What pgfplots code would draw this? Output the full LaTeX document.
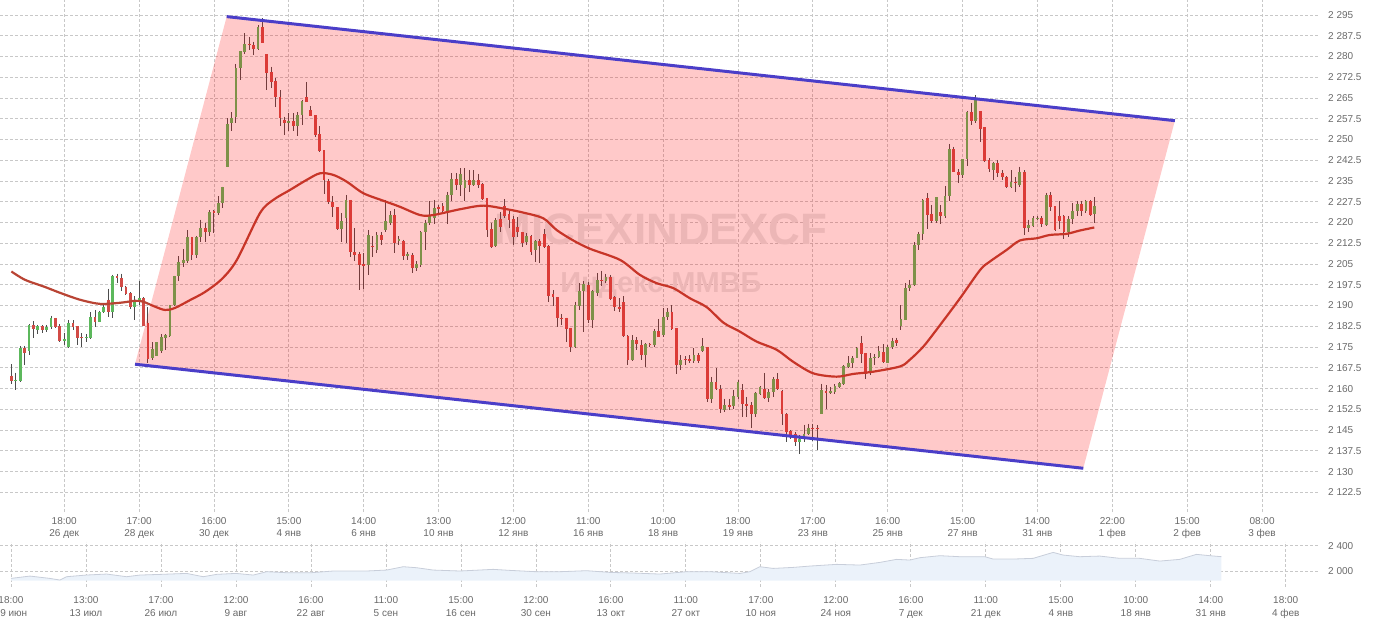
\documentclass[border=0pt]{standalone}
\usepackage{fontspec}
\setmainfont{Liberation Sans}
\usepackage{pgfplots}
\usepackage{pgfplotstable}
\pgfplotsset{compat=1.18}

\definecolor{upc}{RGB}{92,184,92}
\definecolor{downc}{RGB}{210,75,70}
\definecolor{wickc}{RGB}{77,77,77}
\definecolor{mac}{RGB}{185,68,52}
\definecolor{chan}{RGB}{75,62,200}
\definecolor{gridc}{RGB}{200,200,200}
\definecolor{labc}{RGB}{105,105,105}
\definecolor{navfill}{RGB}{235,242,250}
\definecolor{navline}{RGB}{200,206,218}

% hourly candles: index, open, high, low, close
\pgfplotstableread{
i o h l c
0 2164.7 2168.7 2161.8 2162.8
1 2162.7 2165.8 2159.6 2163.1
2 2162.8 2175.4 2162.5 2174.5
3 2174.6 2175.4 2168.5 2172.9
4 2173.7 2183.3 2172.1 2182.9
5 2182.9 2184.4 2178.1 2181.4
6 2181.2 2183.0 2179.6 2182.5
7 2182.5 2183.0 2179.9 2181.2
8 2181.2 2183.0 2180.6 2182.1
9 2182.1 2186.4 2181.6 2185.5
10 2185.5 2185.5 2181.8 2182.4
11 2182.6 2183.3 2176.8 2177.3
12 2177.3 2180.2 2175.7 2177.8
13 2175.1 2184.6 2174.6 2183.6
14 2183.6 2184.6 2181.2 2182.4
15 2182.6 2182.6 2175.7 2178.3
16 2178.5 2180.0 2175.0 2178.1
17 2178.1 2179.7 2176.8 2178.5
18 2178.3 2187.5 2177.9 2185.9
19 2185.9 2188.4 2182.4 2184.2
20 2184.1 2188.2 2183.9 2187.7
21 2187.7 2190.2 2187.2 2189.6
22 2192.1 2196.1 2186.0 2187.5
23 2187.5 2201.2 2185.6 2200.5
24 2200.5 2201.5 2198.1 2199.8
25 2200.0 2201.5 2195.4 2196.8
26 2196.8 2197.2 2193.9 2194.1
27 2194.4 2194.8 2188.7 2189.6
28 2189.6 2193.3 2184.8 2192.1
29 2191.8 2199.0 2190.1 2192.7
30 2192.7 2193.1 2182.6 2182.6
31 2183.8 2189.4 2169.3 2170.8
32 2171.2 2176.7 2170.5 2174.3
33 2171.7 2176.7 2171.7 2176.7
34 2173.7 2179.7 2172.9 2178.5
35 2178.3 2179.7 2173.9 2179.2
36 2179.0 2190.3 2178.5 2190.1
37 2190.1 2200.8 2189.8 2200.5
38 2200.5 2207.8 2198.7 2205.8
39 2205.5 2210.5 2204.0 2206.5
40 2206.2 2217.3 2205.5 2214.7
41 2214.7 2214.9 2206.6 2208.1
42 2208.1 2215.2 2207.0 2214.7
43 2214.7 2221.0 2213.1 2217.9
44 2217.9 2219.7 2213.1 2216.7
45 2216.7 2224.5 2215.0 2223.7
46 2224.1 2224.6 2216.1 2223.4
47 2223.4 2229.4 2222.8 2227.0
48 2227.0 2233.0 2225.2 2232.8
49 2240.2 2257.7 2239.9 2255.5
50 2255.8 2259.8 2252.9 2257.7
51 2258.3 2277.3 2256.1 2275.7
52 2275.7 2282.0 2271.5 2282.0
53 2281.5 2288.4 2281.0 2284.5
54 2284.6 2287.0 2282.4 2284.0
55 2284.2 2285.4 2280.6 2282.8
56 2282.8 2291.4 2282.4 2290.5
57 2290.5 2293.8 2284.8 2285.0
58 2280.8 2280.8 2267.7 2274.2
59 2274.4 2276.3 2268.5 2270.9
60 2271.3 2272.1 2261.7 2265.3
61 2265.3 2267.7 2254.7 2257.7
62 2257.2 2258.3 2251.7 2255.9
63 2255.9 2259.7 2252.9 2256.6
64 2256.6 2259.5 2252.9 2254.7
65 2254.7 2260.0 2251.4 2258.8
66 2258.8 2264.3 2255.4 2263.8
67 2265.3 2270.8 2263.5 2263.7
68 2260.7 2262.1 2258.4 2258.6
69 2258.8 2258.8 2251.0 2251.8
70 2251.9 2254.7 2245.3 2246.0
71 2246.2 2246.2 2230.2 2235.3
72 2235.0 2235.6 2226.7 2227.3
73 2227.5 2229.4 2221.9 2225.5
74 2225.6 2225.6 2217.3 2217.7
75 2217.6 2223.4 2213.1 2220.6
76 2221.6 2230.0 2212.5 2228.2
77 2228.2 2228.2 2207.7 2209.3
78 2209.3 2218.0 2206.0 2208.3
79 2208.8 2209.5 2195.7 2204.5
80 2205.0 2209.0 2195.9 2204.2
81 2204.5 2217.3 2201.1 2215.5
82 2211.4 2215.0 2207.7 2211.0
83 2210.1 2216.5 2209.0 2215.5
84 2215.5 2216.5 2212.0 2213.7
85 2217.3 2228.2 2216.5 2220.6
86 2220.0 2224.0 2219.0 2222.8
87 2222.8 2224.8 2208.9 2212.5
88 2213.5 2215.0 2212.0 2214.1
89 2213.4 2213.8 2206.5 2208.0
90 2208.0 2209.5 2206.5 2208.5
91 2208.3 2209.0 2201.7 2203.5
92 2203.5 2206.0 2202.5 2205.1
93 2204.7 2217.0 2204.0 2216.5
94 2216.5 2221.0 2210.0 2220.0
95 2220.0 2227.6 2219.0 2222.8
96 2221.6 2228.2 2219.4 2225.2
97 2225.5 2226.5 2223.5 2224.8
98 2225.8 2227.0 2223.4 2224.0
99 2224.3 2231.2 2219.5 2230.0
100 2230.0 2237.8 2227.6 2235.6
101 2235.6 2237.8 2231.8 2233.6
102 2233.5 2239.6 2229.4 2237.6
103 2232.4 2239.6 2227.6 2235.2
104 2235.2 2239.0 2231.2 2233.5
105 2233.5 2238.8 2233.2 2235.2
106 2235.2 2237.6 2232.4 2233.5
107 2233.8 2234.2 2228.2 2228.5
108 2228.8 2228.8 2214.9 2217.3
109 2217.6 2220.0 2210.7 2211.3
110 2211.6 2221.6 2211.3 2221.0
111 2221.2 2223.8 2216.7 2218.5
112 2226.1 2228.4 2221.6 2222.4
113 2223.0 2224.6 2218.0 2221.0
114 2221.2 2222.2 2211.9 2214.9
115 2218.3 2221.9 2214.9 2216.4
116 2216.5 2216.5 2211.3 2212.5
117 2212.8 2216.1 2211.9 2215.2
118 2215.2 2215.5 2208.3 2209.5
119 2209.9 2213.7 2205.9 2213.2
120 2213.5 2214.0 2205.3 2211.6
121 2215.9 2217.6 2210.7 2211.3
122 2211.6 2211.9 2191.1 2193.6
123 2194.1 2195.7 2189.9 2193.0
124 2193.1 2193.1 2182.4 2185.6
125 2185.6 2187.0 2183.0 2185.2
126 2185.6 2185.6 2176.9 2181.5
127 2182.0 2182.0 2173.3 2174.9
128 2175.1 2191.4 2174.5 2190.2
129 2189.9 2198.1 2188.4 2195.3
130 2195.4 2198.7 2180.6 2197.9
131 2197.5 2198.5 2183.6 2184.8
132 2184.8 2195.7 2181.8 2195.1
133 2194.5 2201.7 2193.3 2199.3
134 2199.3 2202.6 2196.9 2198.7
135 2198.7 2201.5 2198.1 2200.3
136 2200.3 2201.1 2192.1 2192.4
137 2193.0 2193.3 2188.1 2189.4
138 2189.4 2192.7 2187.8 2188.7
139 2191.1 2193.3 2178.7 2179.0
140 2179.0 2179.3 2168.5 2170.3
141 2170.3 2179.3 2170.0 2177.5
142 2177.5 2178.5 2173.9 2176.0
143 2175.7 2177.5 2170.3 2172.3
144 2172.3 2176.3 2167.9 2176.1
145 2176.1 2176.6 2175.1 2175.7
146 2175.7 2181.5 2175.1 2180.8
147 2180.8 2185.2 2178.5 2178.7
148 2179.3 2189.0 2178.7 2186.0
149 2185.8 2189.0 2184.8 2187.8
150 2187.8 2190.2 2181.2 2181.5
151 2181.8 2181.8 2165.4 2168.5
152 2168.6 2172.1 2166.6 2170.3
153 2170.6 2171.7 2168.5 2170.2
154 2170.6 2172.1 2169.1 2170.0
155 2170.0 2174.5 2169.1 2172.1
156 2172.1 2172.9 2169.1 2170.0
157 2173.5 2178.1 2173.3 2175.4
158 2175.1 2175.1 2155.1 2156.1
159 2156.1 2164.2 2154.8 2162.3
160 2162.3 2167.3 2159.4 2159.7
161 2160.0 2161.2 2151.2 2152.5
162 2152.4 2156.4 2151.5 2153.9
163 2153.9 2156.4 2152.1 2153.3
164 2153.7 2159.6 2152.7 2157.2
165 2157.0 2163.0 2156.4 2162.2
166 2159.6 2161.5 2149.7 2154.3
167 2154.5 2157.0 2149.7 2153.6
168 2153.9 2155.1 2145.7 2150.7
169 2150.9 2158.8 2149.7 2158.5
170 2158.2 2160.8 2157.6 2160.4
171 2160.0 2165.7 2156.4 2156.6
172 2156.6 2160.0 2155.1 2158.8
173 2158.8 2164.2 2157.0 2163.4
174 2163.4 2165.5 2159.4 2159.7
175 2159.0 2159.4 2147.0 2150.7
176 2150.9 2151.2 2140.6 2144.3
177 2144.5 2144.9 2141.8 2143.4
178 2143.7 2144.3 2139.4 2140.6
179 2140.6 2143.1 2136.4 2141.8
180 2141.8 2147.0 2140.6 2143.7
181 2143.7 2147.3 2143.1 2145.8
182 2145.8 2147.3 2141.2 2145.4
183 2145.9 2146.7 2137.8 2145.5
184 2150.7 2161.8 2150.7 2159.4
185 2159.0 2161.2 2152.7 2158.4
186 2158.4 2160.6 2158.2 2159.0
187 2158.8 2161.5 2158.2 2160.8
188 2160.6 2162.4 2160.3 2162.0
189 2161.7 2168.5 2161.2 2168.1
190 2167.9 2171.7 2167.3 2169.4
191 2169.4 2171.7 2167.5 2171.2
192 2171.2 2175.1 2170.9 2174.5
193 2176.3 2179.0 2169.3 2172.4
194 2172.7 2172.9 2163.6 2165.4
195 2166.0 2172.7 2164.8 2170.9
196 2170.9 2172.4 2168.4 2171.3
197 2171.3 2175.4 2170.9 2173.4
198 2173.1 2176.0 2169.4 2169.6
199 2169.4 2175.9 2169.3 2175.1
200 2175.1 2178.4 2174.4 2177.2
201 2177.5 2178.4 2175.4 2176.3
202 2182.6 2190.2 2181.2 2185.2
203 2184.8 2198.1 2184.8 2196.3
204 2196.3 2199.3 2195.1 2197.5
205 2197.5 2212.8 2197.0 2212.0
206 2211.9 2216.7 2210.1 2215.9
207 2215.9 2228.5 2213.7 2228.3
208 2228.8 2230.6 2217.6 2222.8
209 2223.0 2226.4 2220.0 2220.4
210 2220.4 2229.1 2220.0 2229.1
211 2223.7 2226.4 2219.5 2222.2
212 2222.2 2233.2 2221.6 2229.4
213 2229.4 2248.4 2227.9 2246.5
214 2246.5 2247.4 2238.1 2238.2
215 2238.4 2239.3 2234.4 2237.0
216 2237.0 2242.9 2236.0 2242.9
217 2242.9 2260.3 2240.5 2260.0
218 2260.0 2263.1 2255.3 2256.8
219 2256.8 2266.1 2256.1 2264.5
220 2260.3 2260.3 2249.2 2253.8
221 2254.5 2254.5 2241.7 2242.3
222 2242.6 2243.2 2238.1 2239.3
223 2239.0 2242.0 2235.4 2241.4
224 2241.4 2242.6 2236.4 2237.8
225 2238.0 2238.8 2235.4 2236.4
226 2236.4 2236.8 2232.4 2233.0
227 2233.0 2238.8 2232.4 2234.8
228 2234.8 2236.4 2231.2 2234.2
229 2233.6 2240.2 2233.0 2238.4
230 2238.4 2238.8 2215.5 2217.9
231 2217.9 2221.0 2216.7 2219.1
232 2218.8 2222.2 2218.5 2221.6
233 2221.4 2222.2 2221.0 2221.8
234 2221.8 2222.2 2218.5 2219.4
235 2219.1 2230.8 2218.8 2230.0
236 2230.0 2231.1 2224.3 2225.5
237 2225.8 2225.8 2217.0 2217.3
238 2222.4 2227.6 2217.8 2220.4
239 2222.4 2222.8 2214.0 2216.7
240 2216.7 2222.2 2214.7 2221.3
241 2221.2 2227.0 2219.5 2224.2
242 2224.1 2227.8 2222.2 2226.7
243 2226.7 2227.8 2222.2 2224.0
244 2224.0 2228.2 2223.4 2227.6
245 2227.7 2228.2 2222.2 2222.8
246 2223.0 2229.1 2220.0 2226.0
}\candles

\begin{document}
\begin{tikzpicture}
\useasboundingbox (0pt,0pt) rectangle (1380pt,622pt);
\pgfplotsset{
  chartbase/.style={
    scale only axis, width=1318pt,
    axis line style={draw=none},
    major tick length=0pt,
    grid=major,
    major grid style={gridc, line width=0.8pt, dash pattern=on 3pt off 2pt},
    tick label style={text=labc, font=\fontsize{10}{12.5}\selectfont},
    xticklabel style={align=center, anchor=north, inner sep=0pt, yshift=-5pt},
    yticklabel pos=right,
    yticklabel style={anchor=west, inner sep=0pt, xshift=10pt},
  },
  candle/.style 2 args={draw=none, no marks, forget plot,
    error bars/y dir=minus, error bars/y explicit, error bars/error mark=none,
    error bars/error bar style={line width=#1, draw=#2}},
}
% main price panel
\begin{axis}[chartbase,
  at={(0pt,110pt)}, anchor=south west, height=512pt,
  xmin=-2.59, xmax=296.7, ymin=2115.4, ymax=2300.4,
  xtick={12,29,46,63,80,97,114,131,148,165,182,199,216,233,250,267,284},
  xticklabels={{18:00\\26 дек},{17:00\\28 дек},{16:00\\30 дек},{15:00\\4 янв},
    {14:00\\6 янв},{13:00\\10 янв},{12:00\\12 янв},{11:00\\16 янв},{10:00\\18 янв},
    {18:00\\19 янв},{17:00\\23 янв},{16:00\\25 янв},{15:00\\27 янв},{14:00\\31 янв},
    {22:00\\1 фев},{15:00\\2 фев},{08:00\\3 фев}},
  ytick={2122.5,2130,2137.5,2145,2152.5,2160,2167.5,2175,2182.5,2190,2197.5,2205,
    2212.5,2220,2227.5,2235,2242.5,2250,2257.5,2265,2272.5,2280,2287.5,2295},
  yticklabels={2 122.5,2 130,2 137.5,2 145,2 152.5,2 160,2 167.5,2 175,2 182.5,2 190,
    2 197.5,2 205,2 212.5,2 220,2 227.5,2 235,2 242.5,2 250,2 257.5,2 265,2 272.5,
    2 280,2 287.5,2 295},
]
% watermark
\node[font=\bfseries\fontsize{44}{44}\selectfont, text=black!9] at (axis cs:147.5,2217.7) {MICEXINDEXCF};
\node[font=\bfseries\fontsize{29}{29}\selectfont, text=black!9] at (axis cs:147.5,2197.1) {Индекс ММВБ};

% wicks
\addplot[candle={1pt}{wickc}]
  table[x=i, y=h, y error minus expr=\thisrow{h}-\thisrow{l}] {\candles};
% rising bodies
\addplot[restrict expr to domain={\thisrow{c}-\thisrow{o}}{0.01:500}, candle={2.8pt}{upc}]
  table[x=i, y=c, y error minus expr=\thisrow{c}-\thisrow{o}] {\candles};
% falling bodies
\addplot[restrict expr to domain={\thisrow{o}-\thisrow{c}}{0.01:500}, candle={2.8pt}{downc}]
  table[x=i, y=o, y error minus expr=\thisrow{o}-\thisrow{c}] {\candles};

% moving average
\addplot[mac, line width=2.2pt, smooth, mark=none] coordinates {
(0,2202.3) (3.09,2199.3) (7.63,2196.7) (11.04,2194.6) (15.58,2192.1) (20.1,2190.6)
(24.66,2191.0) (28.07,2191.7) (29.9,2191.4) (32.6,2189.6) (34.9,2188.4) (37.1,2189.1)
(40.6,2192.0) (43.96,2194.9) (47.8,2199.6) (51.2,2206.5) (56.45,2223.4) (59.5,2228.2)
(63.3,2231.8) (67.05,2235.4) (70.1,2237.8) (73.1,2237.2) (76.1,2234.8) (79.9,2230.6)
(84.4,2227.9) (88.2,2225.7) (92.8,2222.7) (95.8,2222.7) (101.9,2224.8) (107.2,2226.1)
(112.5,2224.8) (116.2,2223.6) (120.8,2221.5) (123.8,2217.3) (127.6,2213.5) (131.4,2210.5)
(138.2,2206.5) (142.7,2201.1) (146.5,2198.1) (150.3,2196.3) (154.1,2192.6) (157.9,2189.4)
(161.7,2183.8) (165.4,2180.6) (169.2,2177.0) (173.8,2174.0) (177.5,2169.7) (182.1,2165.5)
(187.4,2164.3) (191.2,2165.3) (195.7,2166.1) (201.8,2168.0) (204.0,2170.4) (207.1,2175.2)
(210.9,2183.0) (215.4,2192.6) (220.0,2202.9) (222.2,2205.9) (226.0,2210.1) (229.0,2213.5)
(232.8,2214.3) (235.8,2215.5) (239.6,2215.9) (242.6,2217.1) (245.9,2218.2)
};

% channel area (translucent overlay)
\addplot[draw=none, fill=red, fill opacity=0.21, forget plot] coordinates {
(28.07,2168.8) (48.89,2294.4) (264.2,2256.8) (243.4,2131.2)
} -- cycle;
% channel borders
\addplot[chan, line width=3pt, mark=none] coordinates {(48.89,2294.4) (264.2,2256.8)};
\addplot[chan, line width=3pt, mark=none] coordinates {(28.07,2168.8) (243.4,2131.2)};
\end{axis}

% navigator panel
\begin{axis}[chartbase,
  at={(0pt,35.3pt)}, anchor=south west, height=45pt,
  xmin=-0.1467, xmax=17.43, ymin=1752, ymax=2463,
  xticklabel style={yshift=-5pt},
  xtick={0,...,17},
  xticklabels={{18:00\\29 июн},{13:00\\13 июл},{17:00\\26 июл},{12:00\\9 авг},
    {16:00\\22 авг},{11:00\\5 сен},{15:00\\16 сен},{12:00\\30 сен},{16:00\\13 окт},
    {11:00\\27 окт},{17:00\\10 ноя},{12:00\\24 ноя},{16:00\\7 дек},{11:00\\21 дек},
    {15:00\\4 янв},{10:00\\18 янв},{14:00\\31 янв},{18:00\\4 фев}},
  ytick={2000,2400}, yticklabels={2 000,2 400},
]
\addplot[draw=none, fill=navfill, forget plot] coordinates {
(0,1846.5) (0,1883.4) (0.253,1920) (0.52,1883) (0.653,1857) (0.742,1910) (1.0,1936)
(1.276,1952) (1.542,1910) (1.72,1936) (2.0,1947) (2.342,1962) (2.564,1910) (2.742,1947)
(3.0,1962) (3.231,1936) (3.409,1989) (3.676,1973) (4.0,1973) (4.298,2000) (4.742,2000)
(5.009,2015) (5.231,2068) (5.409,2052) (5.631,2015) (5.987,2000) (6.431,2026) (6.653,2010)
(7.0,1989) (7.32,1989) (7.676,2005) (7.987,1978) (8.298,1968) (8.653,1952) (9.009,1989)
(9.32,1989) (9.72,1962) (9.853,1989) (9.987,2068) (10.164,2041) (10.431,2057) (10.653,2078)
(11.009,2105) (11.32,2094) (11.587,2136) (11.809,2184) (11.987,2173) (12.12,2210)
(12.387,2242) (12.653,2226) (12.987,2226) (13.097,2189) (13.364,2189) (13.631,2200)
(13.898,2294) (14.031,2252) (14.253,2226) (14.52,2236) (14.787,2200) (15.053,2200)
(15.32,2157) (15.587,2184) (15.809,2263) (15.987,2242) (16.143,2226) (16.143,1846.5)
} -- cycle;
\addplot[navline, line width=0.8pt, mark=none] coordinates {
(0,1883.4) (0.253,1920) (0.52,1883) (0.653,1857) (0.742,1910) (1.0,1936)
(1.276,1952) (1.542,1910) (1.72,1936) (2.0,1947) (2.342,1962) (2.564,1910) (2.742,1947)
(3.0,1962) (3.231,1936) (3.409,1989) (3.676,1973) (4.0,1973) (4.298,2000) (4.742,2000)
(5.009,2015) (5.231,2068) (5.409,2052) (5.631,2015) (5.987,2000) (6.431,2026) (6.653,2010)
(7.0,1989) (7.32,1989) (7.676,2005) (7.987,1978) (8.298,1968) (8.653,1952) (9.009,1989)
(9.32,1989) (9.72,1962) (9.853,1989) (9.987,2068) (10.164,2041) (10.431,2057) (10.653,2078)
(11.009,2105) (11.32,2094) (11.587,2136) (11.809,2184) (11.987,2173) (12.12,2210)
(12.387,2242) (12.653,2226) (12.987,2226) (13.097,2189) (13.364,2189) (13.631,2200)
(13.898,2294) (14.031,2252) (14.253,2226) (14.52,2236) (14.787,2200) (15.053,2200)
(15.32,2157) (15.587,2184) (15.809,2263) (15.987,2242) (16.143,2226)
};
\end{axis}
\end{tikzpicture}
\end{document}
